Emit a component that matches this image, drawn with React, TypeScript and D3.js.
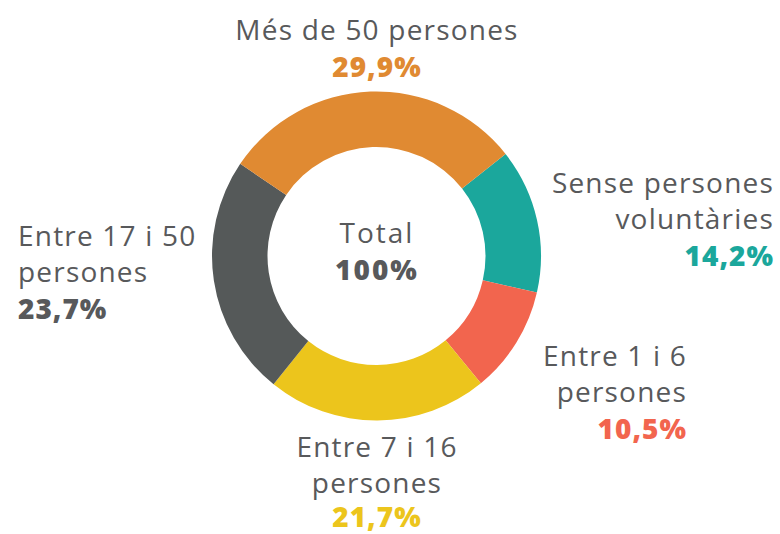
import React from "react";
import * as d3 from "d3";

const categories = [
  "Sense persones voluntàries",
  "Entre 1 i 6 persones",
  "Entre 7 i 16 persones",
  "Entre 17 i 50 persones",
  "Més de 50 persones",
];
const values = [14.2, 10.5, 21.7, 23.7, 29.9];
const valueLabels = ["14,2%", "10,5%", "21,7%", "23,7%", "29,9%"];
const colors = ["#1BA79C", "#F2654E", "#ECC51C", "#555959", "#E08A32"];
const labelLines = [
  ["Sense persones", "voluntàries"],
  ["Entre 1 i 6", "persones"],
  ["Entre 7 i 16", "persones"],
  ["Entre 17 i 50", "persones"],
  ["Més de 50 persones"],
];
const totalLabel = "Total";
const totalValue = "100%";

const W = 780;
const H = 534;
const cx = 376.5;
const cy = 256;
const outerR = 164.5;
const innerR = 109;
const startDeg = 51.7;

// label anchors: [x, firstBaseline, anchor]
const labelPos: [number, number, "start" | "middle" | "end"][] = [
  [774, 193, "end"],
  [687, 366, "end"],
  [377, 457, "middle"],
  [18, 246, "start"],
  [377, 40, "middle"],
];
const lineH = 36;
const textGray = "#58595B";
const font = "'Open Sans', sans-serif";
const fs = 28;
const ls = 1.2;
const lsBold = 1;

export default function App() {
  const pie = d3
    .pie<number>()
    .sort(null)
    .value((d) => d)
    .startAngle((startDeg * Math.PI) / 180)
    .endAngle((startDeg * Math.PI) / 180 + 2 * Math.PI);
  const arcs = pie(values);
  const arc = d3
    .arc<d3.PieArcDatum<number>>()
    .innerRadius(innerR)
    .outerRadius(outerR);

  return (
    <div style={{ position: "absolute", left: 0, top: 0 }}>
      <svg width={W} height={H} style={{ display: "block", background: "#fff" }}>
        <g transform={`translate(${cx},${cy})`}>
          {arcs.map((a, i) => (
            <path key={i} d={arc(a) || ""} fill={colors[i]} />
          ))}
        </g>
        <text
          x={377}
          y={243}
          textAnchor="middle"
          fontFamily={font}
          fontSize={fs}
          letterSpacing={ls + 0.8}
          fill={textGray}
        >
          {totalLabel}
        </text>
        <text
          x={377}
          y={280}
          textAnchor="middle"
          fontFamily={font}
          fontWeight={800}
          fontSize={fs}
          letterSpacing={lsBold + 1}
          fill={textGray}
        >
          {totalValue}
        </text>
        {categories.map((c, i) => {
          const [x, y, anchor] = labelPos[i];
          const lines = labelLines[i];
          return (
            <g key={c}>
              {lines.map((l, j) => (
                <text
                  key={j}
                  x={x}
                  y={y + j * lineH}
                  textAnchor={anchor}
                  fontFamily={font}
                  fontSize={fs}
                  letterSpacing={ls}
                  fill={textGray}
                >
                  {l}
                </text>
              ))}
              <text
                x={x}
                y={Math.min(y + lines.length * lineH + 1, 527)}
                textAnchor={anchor}
                fontFamily={font}
                fontWeight={800}
                fontSize={fs}
                letterSpacing={lsBold}
                fill={i === 3 ? textGray : colors[i]}
              >
                {valueLabels[i]}
              </text>
            </g>
          );
        })}
      </svg>
    </div>
  );
}
